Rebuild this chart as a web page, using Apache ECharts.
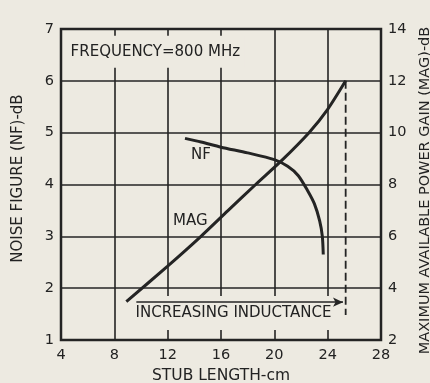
<!DOCTYPE html>
<html>
<head>
<meta charset="utf-8">
<script src="https://cdn.jsdelivr.net/npm/echarts@6/dist/echarts.min.js"></script>
<style>
  html, body { margin: 0; padding: 0; background: #edeae1; }
  #chart { width: 430px; height: 383px; }
</style>
</head>
<body>
<div id="chart"></div>
<script>
// Stub length (cm) and noise figure (dB), left scale
const nfLength = [13.3, 14.5, 16, 18, 20, 21, 21.8, 22.5, 23.0, 23.4, 23.6, 23.67];
const nfValue  = [4.89, 4.82, 4.72, 4.61, 4.48, 4.35, 4.17, 3.88, 3.63, 3.3, 3.0, 2.65];

// Stub length (cm) and maximum available power gain (dB), right scale
const magLength = [8.9, 12, 14.5, 16.5, 18.6, 20.5, 22.6, 24, 25.35];
const magValue  = [3.48, 4.85, 6.0, 6.98, 8.0, 8.9, 10.0, 10.9, 12.0];

// Limit marker (dashed) and inductance arrow, right-scale units
const limitLength = [25.35, 25.35];
const limitGain = [12.0, 2.96];
const arrowLength = [9.65, 25.15];
const arrowGain = 3.46;

// Axis ticks
const xTicks = [4, 8, 12, 16, 20, 24, 28];
const nfTicks = [1, 2, 3, 4, 5, 6, 7];
const magTicks = [2, 4, 6, 8, 10, 12, 14];

// Text annotations, placed in (stub length, noise figure) units
const noteText = ['FREQUENCY=800 MHz', 'NF', 'MAG', 'INCREASING INDUCTANCE'];
const notePos = [[4.42, 6.56], [14.5, 4.57], [13.7, 3.29], [16.9, 1.52]];

const paper = '#edeae1';
const ink = '#242424';
const textInk = '#222';
const font = 'DejaVu Sans';

const zip = (a, b) => a.map((v, i) => [v, b[i]]);

// How each annotation sits: anchor and the paper-coloured box that hides the grid behind it
const noteLook = [
  { align: 'left', padding: [9, 4, 8, 4], backgroundColor: paper },
  { align: 'center' },
  { align: 'center' },
  { align: 'center', padding: [10, 5, 9, 6], backgroundColor: paper }
];

const chart = echarts.init(document.getElementById('chart'), null, { renderer: 'canvas' });

chart.setOption({
  backgroundColor: paper,
  animation: false,
  textStyle: { fontFamily: font },
  grid: {
    left: 61, right: 49, top: 29, bottom: 43,
    outerBoundsMode: 'none', containLabel: false,
    show: true, borderColor: ink, borderWidth: 2.5, backgroundColor: 'transparent'
  },
  xAxis: {
    type: 'value', min: xTicks[0], max: xTicks[xTicks.length - 1], interval: 4, z: 0,
    name: 'STUB LENGTH-cm', nameLocation: 'middle', nameGap: 27,
    nameTextStyle: { color: textInk, fontSize: 15.5, fontFamily: font },
    axisLine: { show: false },
    axisTick: { show: false },
    axisLabel: { color: textInk, fontSize: 14.5, margin: 8, fontFamily: font },
    splitLine: { show: true, lineStyle: { color: ink, width: 1.6 } }
  },
  yAxis: [
    {
      type: 'value', min: nfTicks[0], max: nfTicks[nfTicks.length - 1], interval: 1, z: 0,
      name: 'NOISE FIGURE (NF)-dB', nameLocation: 'middle', nameGap: 35, nameRotate: 90,
      nameTextStyle: { color: textInk, fontSize: 15, fontFamily: font, padding: [0, 0, 0, 12] },
      axisLine: { show: false },
      axisTick: { show: false },
      axisLabel: { color: textInk, fontSize: 14.5, margin: 7, fontFamily: font },
      splitLine: { show: true, lineStyle: { color: ink, width: 1.6 } }
    },
    {
      type: 'value', min: magTicks[0], max: magTicks[magTicks.length - 1], interval: 2, z: 0,
      position: 'right',
      name: 'MAXIMUM AVAILABLE POWER GAIN (MAG)-dB', nameLocation: 'middle', nameGap: 22, nameRotate: 90,
      nameTextStyle: { color: textInk, fontSize: 14.5, fontFamily: font, padding: [0, 12, 0, 0] },
      axisLine: { show: false },
      axisTick: { show: false },
      axisLabel: { color: textInk, fontSize: 14.5, margin: 7, fontFamily: font },
      splitLine: { show: false }
    }
  ],
  series: [
    {
      type: 'custom', z: 2, yAxisIndex: 0, silent: true,
      data: notePos.map((p, i) => ({ value: p, name: noteText[i] })),
      renderItem: (params, api) => {
        const i = params.dataIndex;
        const pt = api.coord([api.value(0), api.value(1)]);
        const look = noteLook[i];
        return {
          type: 'text', x: pt[0], y: pt[1], z2: 1,
          style: Object.assign({
            text: noteText[i], fill: textInk,
            font: '15px "' + font + '"',
            verticalAlign: 'middle'
          }, look)
        };
      }
    },
    {
      type: 'line', z: 3, yAxisIndex: 0, name: 'NF',
      data: zip(nfLength, nfValue), showSymbol: false,
      smooth: 0.25,
      lineStyle: { color: ink, width: 3 }
    },
    {
      type: 'line', z: 3, yAxisIndex: 1, name: 'MAG',
      data: zip(magLength, magValue), showSymbol: false,
      smooth: 0.25,
      lineStyle: { color: ink, width: 3 }
    },
    {
      type: 'line', z: 3, yAxisIndex: 1, name: 'limit',
      data: zip(limitLength, limitGain), showSymbol: false,
      lineStyle: { color: ink, width: 1.8, type: [8, 4] }
    },
    {
      type: 'line', z: 3, yAxisIndex: 1, name: 'inductance',
      data: [], showSymbol: false,
      markLine: {
        silent: true, symbol: ['none', 'arrow'], symbolSize: [7, 10],
        label: { show: false },
        lineStyle: { color: ink, width: 1.5, type: 'solid' },
        data: [[{ coord: [arrowLength[0], arrowGain] }, { coord: [arrowLength[1], arrowGain] }]]
      }
    }
  ]
});
</script>
</body>
</html>
